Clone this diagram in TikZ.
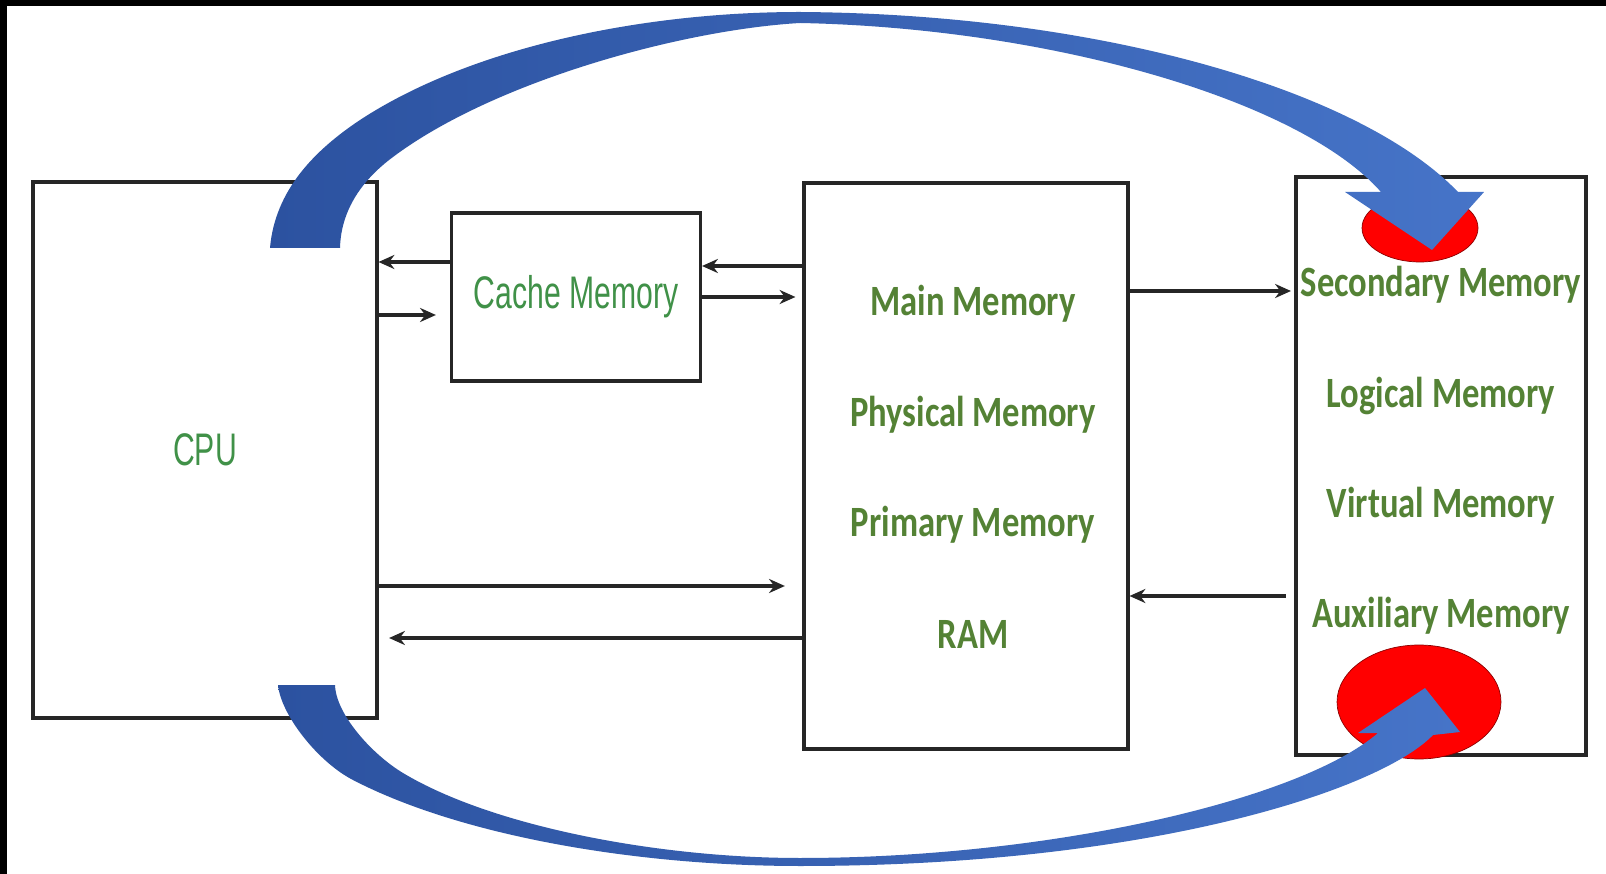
\documentclass[tikz,border=0pt]{standalone}
\usepackage{fontspec}
\usepackage{graphicx}
\usetikzlibrary{arrows.meta,shapes.geometric,positioning}
\newfontfamily\calib{Carlito}
\newfontfamily\arialn{Liberation Sans}
\definecolor{memgreen}{RGB}{84,130,53}
\definecolor{litegreen}{RGB}{64,145,72}
\definecolor{bluedark}{RGB}{44,82,160}
\definecolor{bluelite}{RGB}{70,116,200}
\newcommand{\memtxt}[1]{\scalebox{0.8}[1]{#1}}
\newcommand{\thintxt}[1]{\scalebox{0.66}[1]{#1}}

\begin{document}
\begin{tikzpicture}[
  x=0.02cm, y=-0.02cm,
  >=Stealth,
  box/.style={
    rectangle, draw=black!85, line width=1.8pt, inner sep=0pt
  },
  memlbl/.style={
    font=\calib\bfseries\fontsize{24.6}{28}\selectfont, text=memgreen, inner sep=0pt
  },
  cpulbl/.style={font=\arialn\fontsize{26}{30}\selectfont, text=litegreen},
  arr/.style={-{Stealth[length=9pt,width=8pt]}, line width=2.1pt, draw=black!85},
  blob/.style={ellipse, draw=red!55!black, fill=red, thin, inner sep=0pt},
  bigarrow/.style={left color=bluedark, right color=bluelite}
]

% Frame
\fill[white] (0,0) rectangle (1606,874);
\useasboundingbox (0,0) rectangle (1606,874);
\fill[black] (0,0) rectangle (1606,6);
\fill[black] (0,0) rectangle (7,874);

% Blocos
\node[box, cpulbl, minimum width=6.88cm, minimum height=10.72cm]
     (cpu) at (205,450) {\thintxt{CPU}};
\node[box, cpulbl, minimum width=4.98cm, minimum height=3.36cm]
     (cache) at (576,297) {\thintxt{Cache Memory}};
\node[box, minimum width=6.48cm, minimum height=11.32cm] (main) at (966,466) {};
\node[box, minimum width=5.80cm, minimum height=11.56cm] (sec)  at (1441,466) {};

% -- Memoria principal --
\node[memlbl] (mainm) at (973,304) {\memtxt{Main Memory}};
\node[memlbl] (physm) at (973,415) {\memtxt{Physical Memory}};
\node[memlbl] (primm) at (973,525) {\memtxt{Primary Memory}};
\node[memlbl] (ramm)  at (973,634) {\memtxt{RAM}};

% -- Memoria secundaria --
\node[memlbl] (secm) at (1441,285) {\memtxt{Secondary Memory}};
\node[memlbl] (logm) at (1441,396) {\memtxt{Logical Memory}};
\node[memlbl] (virm) at (1441,506) {\memtxt{Virtual Memory}};
\node[memlbl] (auxm) at (1441,616) {\memtxt{Auxiliary Memory}};

% -- Ligacoes --
\draw[arr] (cache.west |- 0,262) -- (cpu.east |- 0,262);
\draw[arr, shorten >=8pt] (cpu.east |- 0,315) -- (cache.west |- 0,315);
\draw[arr] (main.west |- 0,266) -- (cache.east |- 0,266);
\draw[arr, shorten >=4pt] (cache.east |- 0,297) -- (main.west |- 0,297);
\draw[arr, shorten >=2pt] (main.east |- 0,291) -- (sec.west |- 0,291);
\draw[arr, shorten <=5pt] (sec.west |- 0,596) -- (main.east |- 0,596);
\draw[arr, shorten >=10pt] (cpu.east |- 0,586) -- (main.west |- 0,586);
\draw[arr, shorten >=6pt] (main.west |- 0,638) -- (cpu.east |- 0,638);

% -- Marcas --
\node[blob, minimum width=2.32cm, minimum height=1.36cm] (blobtop) at (1420,228) {};
\node[blob, minimum width=3.28cm, minimum height=2.28cm] (blobbot) at (1419,702) {};

% -- Setas curvas --
\shade[bigarrow] (270,248) .. controls (275,190) and (315,150) .. (360,120)
  .. controls (470,48) and (640,12) .. (800,12)
  .. controls (1100,14) and (1360,90) .. (1458,192)
  -- (1484,192) -- (1432,250) -- (1345,192) -- (1381,192)
  .. controls (1300,100) and (1050,28) .. (800,23)
  .. controls (680,30) and (493,82) .. (393,157)
  .. controls (362,180) and (341,210) .. (340,248) -- cycle;
\shade[bigarrow] (278,685) .. controls (281,715) and (318,762) .. (353,780)
  .. controls (463,837) and (640,866) .. (800,866)
  .. controls (1150,866) and (1380,790) .. (1433,735)
  -- (1460,732) -- (1425,688) -- (1358,733) -- (1378,733)
  .. controls (1300,800) and (1050,858) .. (800,858)
  .. controls (660,858) and (493,827) .. (403,773)
  .. controls (373,755) and (336,715) .. (335,685) -- cycle;

\end{tikzpicture}
\end{document}
